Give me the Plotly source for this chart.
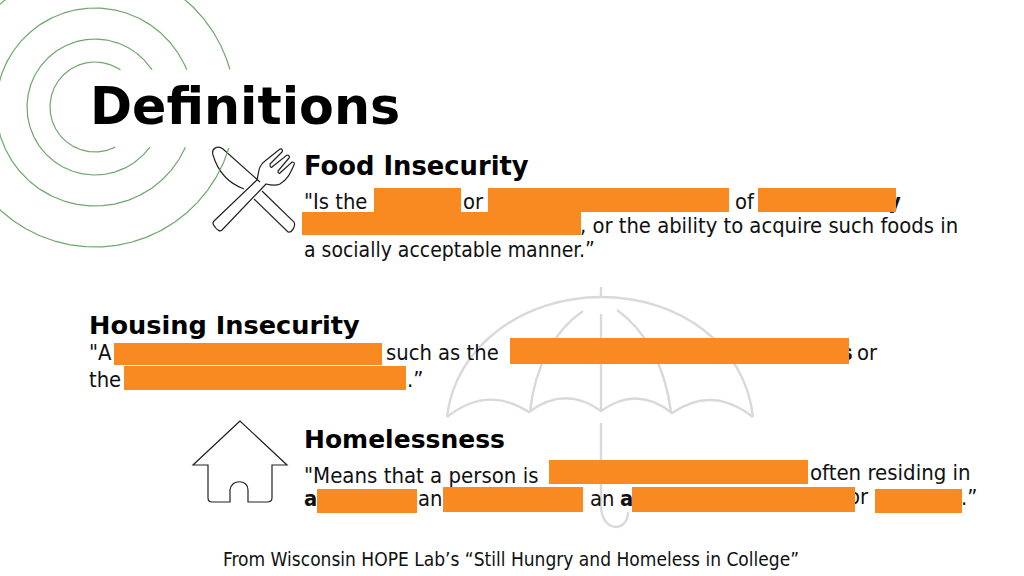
import numpy as np
import plotly.graph_objects as go

ORANGE = "#F98A22"
GREEN = "#6FA76B"
GREY = "#D9D9D9"
BODY = "DejaVu Sans Condensed, DejaVu Sans"
HEAD = "DejaVu Sans"

# --- text pieces ---
head_text = ["Definitions", "Food Insecurity", "Housing Insecurity", "Homelessness"]
head_x = [90, 304, 89, 304]
head_y = [111, 169, 328, 442]
head_size = [50.7, 25.8, 25.6, 25]

body_text = ['"Is the', "or", "of", "y",
             ", or the ability to acquire such foods in", "a socially acceptable manner.”",
             '"A', "such as the", "s", "or", "the", ".”",
             '"Means that a person is', "often residing in", "a", "an", "an", "a", "or", ".”",
             "From Wisconsin HOPE Lab’s “Still Hungry and Homeless in College”"]
body_x = [304, 463, 735, 888, 580, 304, 89, 386, 841, 857, 89, 407, 304, 810, 304, 418, 590, 620, 848, 961, 223]
body_y = [204, 204, 204, 204, 228, 252, 355, 355, 355, 355, 382, 382, 477, 474, 501, 501, 501, 501, 499, 500, 561]
body_size = [21.8, 21.8, 21.8, 21.8, 21.8, 21, 21.8, 21.8, 21.8, 21.8, 21.8, 21.8, 22, 22, 21.8, 21.8, 21.8, 21.8, 21.8, 21.8, 19]
body_bold = [0, 0, 0, 1, 0, 0, 0, 0, 1, 0, 0, 0, 0, 0, 1, 0, 0, 1, 0, 0, 0]

# --- redaction blocks ---
red_x0 = [374, 488, 758, 302, 114, 510, 124, 549, 317, 443, 632, 875]
red_x1 = [461, 729, 896, 581, 382, 849, 406, 808, 417, 583, 855, 962]
red_y0 = [188, 188, 188, 212, 343, 338, 366, 460, 489, 487, 487, 489]
red_y1 = [212, 212, 212, 235, 365, 364, 390, 484, 513, 512, 512, 513]

# --- decorative rings ---
ring_radius = [45, 68, 99, 140]
ring_cx, ring_cy = 95, 107
gap_top, gap_bottom = 70, 147

# --- line-art outlines ---
umbrella_paths = [
    "M601,287 L601,297",
    "M447,417 C455,345 525,297 601,297 C680,297 745,345 753,417",
    "M447,417 Q487,385 529,412 Q565,385 601,411 Q637,385 672,413 Q712,385 753,417",
    "M583,311 C555,330 535,365 530,412",
    "M617,310 C645,330 665,365 671,412",
    "M601,314 L601,411",
    "M601,423 L601,505 C601,533 628,533 628,512",
]
knife_fork_paths = [
    "M244,189 C228,183 218,172 213,155 C211,148 218,145 223,149 L260,182",
    "M262,191 L294,222 C296,226 292,233 288,232 L254,199",
    "M257,180 C259,172 258,166 265,161 L280,149 C282,148 283,151 282,152 L270,164 "
    "C270,167 271,168 272,167 L287,155 C289,155 290,157 289,158 L278,171 C278,173 279,174 280,173 "
    "L292,162 C294,162 295,163 294,165 C290,174 287,180 280,184 C276,186 270,185 266,184 "
    "L222,230 C220,232 217,230 215,227 C213,225 212,223 214,221 Z",
]
house_paths = [
    "M240,421 L193,465 L208,465 L208,498 C208,501 210,502 212,502 L230,502 L230,490 "
    "C231,479 248,479 248,490 L248,502 L267,502 C270,502 272,501 272,498 L272,465 L287,465 Z",
]

fig = go.Figure()

# rings
for r in ring_radius:
    t = np.linspace(0, 2 * np.pi, 720)
    xs = ring_cx + r * np.cos(t)
    ys = ring_cy + r * np.sin(t)
    mask = (xs > ring_cx) & (ys > gap_top) & (ys < gap_bottom)
    ys = np.where(mask, np.nan, ys)
    fig.add_trace(go.Scatter(x=xs, y=ys, mode="lines", line=dict(color=GREEN, width=1.2), hoverinfo="skip"))

# text
fig.add_trace(go.Scatter(
    x=body_x, y=body_y, mode="text", textposition="middle right",
    text=[f"<b>{t}</b>" if b else t for t, b in zip(body_text, body_bold)],
    textfont=dict(family=BODY, size=body_size, color="#111111"), hoverinfo="skip"))
fig.add_trace(go.Scatter(
    x=head_x, y=head_y, mode="text", textposition="middle right",
    text=[f"<b>{t}</b>" for t in head_text],
    textfont=dict(family=HEAD, size=head_size, color="#000000"), hoverinfo="skip"))

# redactions on top of the text
for x0, x1, y0, y1 in zip(red_x0, red_x1, red_y0, red_y1):
    fig.add_trace(go.Scatter(x=[x0, x1, x1, x0, x0], y=[y0, y0, y1, y1, y0], mode="lines",
                             fill="toself", fillcolor=ORANGE, line=dict(width=0), hoverinfo="skip"))

shapes = []
for p in umbrella_paths:
    shapes.append(dict(type="path", path=p, xref="x", yref="y", layer="below", line=dict(color=GREY, width=2.4)))
for p in knife_fork_paths + house_paths:
    shapes.append(dict(type="path", path=p, xref="x", yref="y", layer="below", line=dict(color="#222222", width=1.2)))

fig.update_layout(
    width=1024, height=576, margin=dict(l=0, r=0, t=0, b=0),
    paper_bgcolor="white", plot_bgcolor="white", showlegend=False, shapes=shapes,
    xaxis=dict(range=[0, 1024], visible=False, fixedrange=True),
    yaxis=dict(range=[576, 0], visible=False, fixedrange=True),
)
fig.write_html("out.html", post_script="document.body.style.margin='0';document.body.style.overflow='hidden';",
               config=dict(displayModeBar=False))
